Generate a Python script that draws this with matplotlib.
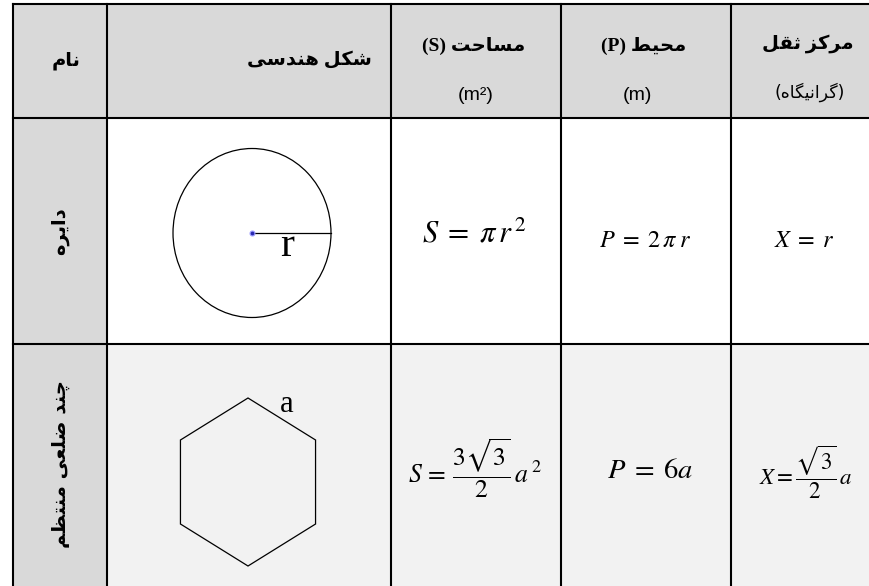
import numpy as np
import matplotlib
matplotlib.use("Agg")
import matplotlib.pyplot as plt
from matplotlib.patches import Rectangle, Ellipse, Polygon

plt.rcParams['mathtext.fontset'] = 'stix'

# ---------------- data ----------------
header_fa = ["نام", "شکل هندسی", "مساحت", "محیط", "مرکز ثقل"]
header_sym = ["", "", "(S)", "(P)", ""]
header_unit = ["", "", "(m²)", "(m)", "(گرانیگاه)"]
row_names = ["دایره", "چند ضلعی منتظم"]
area_formulas = [r"$S\;=\;\pi\,r^{\,2}$", r"$S\,=\,\dfrac{3\sqrt{3}}{2}\,a^{\,2}$"]
perimeter_formulas = [r"$P\;=\;2\,\pi\;r$", r"$P\;=\;6a$"]
centroid_formulas = [r"$X\;=\;r$", r"$X=\dfrac{\sqrt{3}}{2}\,a$"]
shape_labels = ["r", "a"]

# ---------------- minimal Arabic/Persian shaping ----------------
FORMS = {
    'ا': ('\uFE8D', '\uFE8E', None, None),
    'ب': ('\uFE8F', '\uFE90', '\uFE91', '\uFE92'),
    'ت': ('\uFE95', '\uFE96', '\uFE97', '\uFE98'),
    'ث': ('\uFE99', '\uFE9A', '\uFE9B', '\uFE9C'),
    'ح': ('\uFEA1', '\uFEA2', '\uFEA3', '\uFEA4'),
    'د': ('\uFEA9', '\uFEAA', None, None),
    'ر': ('\uFEAD', '\uFEAE', None, None),
    'ز': ('\uFEAF', '\uFEB0', None, None),
    'س': ('\uFEB1', '\uFEB2', '\uFEB3', '\uFEB4'),
    'ش': ('\uFEB5', '\uFEB6', '\uFEB7', '\uFEB8'),
    'ض': ('\uFEBD', '\uFEBE', '\uFEBF', '\uFEC0'),
    'ط': ('\uFEC1', '\uFEC2', '\uFEC3', '\uFEC4'),
    'ظ': ('\uFEC5', '\uFEC6', '\uFEC7', '\uFEC8'),
    'ع': ('\uFEC9', '\uFECA', '\uFECB', '\uFECC'),
    'ق': ('\uFED5', '\uFED6', '\uFED7', '\uFED8'),
    'ل': ('\uFEDD', '\uFEDE', '\uFEDF', '\uFEE0'),
    'م': ('\uFEE1', '\uFEE2', '\uFEE3', '\uFEE4'),
    'ن': ('\uFEE5', '\uFEE6', '\uFEE7', '\uFEE8'),
    'ه': ('\uFEE9', '\uFEEA', '\uFEEB', '\uFEEC'),
    'و': ('\uFEED', '\uFEEE', None, None),
    'ک': ('\uFB8E', '\uFB8F', '\uFB90', '\uFB91'),
    'گ': ('\uFB92', '\uFB93', '\uFB94', '\uFB95'),
    'ی': ('\uFBFC', '\uFBFD', '\uFBFE', '\uFBFF'),
    'چ': ('\uFB7A', '\uFB7B', '\uFB7C', '\uFB7D'),
}


def shape(word):
    out = []
    n = len(word)
    for i, ch in enumerate(word):
        if ch not in FORMS:
            out.append(ch)
            continue
        iso, fin, ini, med = FORMS[ch]
        prev = word[i - 1] if i > 0 else None
        nxt = word[i + 1] if i < n - 1 else None
        jp = prev in FORMS and FORMS[prev][2] is not None
        jn = ini is not None and nxt in FORMS
        if jp and jn:
            out.append(med)
        elif jp:
            out.append(fin)
        elif jn:
            out.append(ini)
        else:
            out.append(iso)
    return ''.join(out)


def rtl(text):
    return shape(text)[::-1]


# ---------------- figure ----------------
fig = plt.figure(figsize=(8.7, 5.86), dpi=100)
ax = fig.add_axes([0, 0, 1, 1])
ax.set_xlim(0, 870)
ax.set_ylim(586, 0)
ax.axis('off')

col_edges = [13, 107, 391, 561, 731, 900]
row_edges = [4, 118, 344, 620]
hdr_bg = '#d9d9d9'
row_bg = ['#ffffff', '#f2f2f2']

# backgrounds
ax.add_patch(Rectangle((col_edges[0], row_edges[0]), col_edges[-1] - col_edges[0],
                       row_edges[1] - row_edges[0], fc=hdr_bg, ec='none', zorder=0))
for r in range(2):
    y0, y1 = row_edges[r + 1], row_edges[r + 2]
    ax.add_patch(Rectangle((col_edges[0], y0), col_edges[1] - col_edges[0], y1 - y0,
                           fc=hdr_bg, ec='none', zorder=0))
    ax.add_patch(Rectangle((col_edges[1], y0), col_edges[-1] - col_edges[1], y1 - y0,
                           fc=row_bg[r], ec='none', zorder=0))

# grid lines
lw = 1.5
for x in col_edges[:-1]:
    ax.plot([x, x], [row_edges[0], row_edges[-1]], color='black', lw=lw, zorder=3,
            solid_capstyle='projecting')
for y in row_edges[:-1]:
    ax.plot([col_edges[0], col_edges[-1]], [y, y], color='black', lw=lw, zorder=3,
            solid_capstyle='projecting')

# ---------------- header ----------------
fa_font = ['Liberation Serif', 'DejaVu Sans']
hdr_pos = [(66, 61), (309, 60), (474, 46), (644, 46), (808, 44)]
unit_pos = [None, None, (476, 95), (637, 95), (810, 92)]
for i in range(5):
    txt = rtl(header_fa[i])
    if header_sym[i]:
        txt = header_sym[i] + " " + txt
    ax.text(*hdr_pos[i], txt, ha='center', va='center', fontsize=14,
            fontweight='bold', family=fa_font, zorder=4)
    if header_unit[i]:
        u = header_unit[i]
        if u.startswith('(') and any(c in FORMS for c in u):
            u = '(' + rtl(u[1:-1]) + ')'
            ax.text(*unit_pos[i], u, ha='center', va='center', fontsize=12.5,
                    family=['DejaVu Sans'], zorder=4)
        else:
            ax.text(*unit_pos[i], u, ha='center', va='center', fontsize=14,
                    family=['Liberation Sans'], zorder=4)

# ---------------- row names ----------------
name_pos = [(60, 231), (61, 464)]
for i, nm in enumerate(row_names):
    ax.text(*name_pos[i], rtl(nm), ha='center', va='center', rotation=90,
            fontsize=14, fontweight='bold', family=['DejaVu Sans'], zorder=4)

# ---------------- shapes ----------------
cx, cy = 252, 233
ax.add_patch(Ellipse((cx, cy), 158, 169, fc='none', ec='black', lw=0.9, zorder=4))
ax.plot([cx, cx + 79], [cy, cy], color='black', lw=0.9, zorder=4)
ax.plot(cx, cy, 'o', ms=3.5, color='#2a2ab0', mec='#9a9aff', mew=0.8, zorder=5)
ax.text(287, 246, shape_labels[0], ha='center', va='center', fontsize=30,
        family=['Liberation Serif'], zorder=5)

hx, hy = 248, 482
ang = np.deg2rad(np.array([90, 30, -30, -90, -150, 150]))
verts = np.column_stack([hx + 78 * np.cos(ang), hy - 84 * np.sin(ang)])
ax.add_patch(Polygon(verts, closed=True, fc='none', ec='black', lw=0.9, zorder=4))
ax.text(287, 404, shape_labels[1], ha='center', va='center', fontsize=22,
        family=['Liberation Serif'], zorder=5)

# ---------------- formulas ----------------
ax.text(474, 234, area_formulas[0], ha='center', va='center', fontsize=22, zorder=5)
ax.text(645, 240, perimeter_formulas[0], ha='center', va='center', fontsize=17.5, zorder=5)
ax.text(804, 240, centroid_formulas[0], ha='center', va='center', fontsize=17.5, zorder=5)

ax.text(475, 468, area_formulas[1], ha='center', va='center', fontsize=18.5, zorder=5)
ax.text(650, 470, perimeter_formulas[1], ha='center', va='center', fontsize=20.5, zorder=5)
ax.text(806, 472, centroid_formulas[1], ha='center', va='center', fontsize=16.5, zorder=5)

fig.savefig('out.png', dpi=100)
